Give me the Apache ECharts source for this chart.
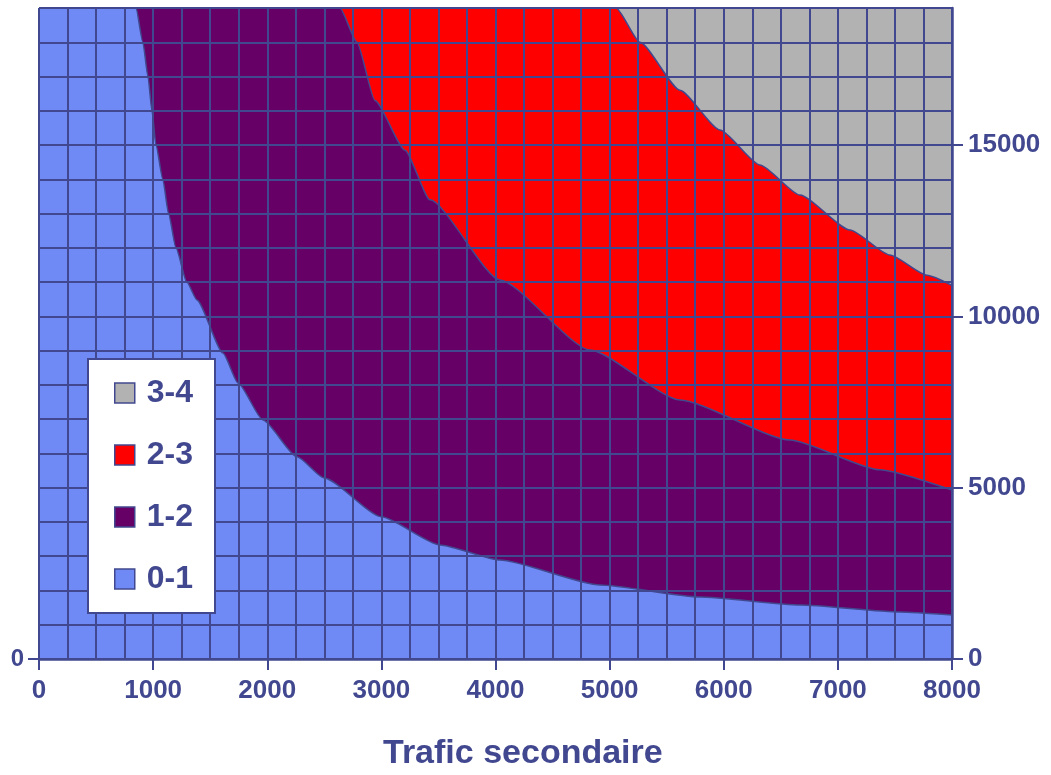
<!DOCTYPE html>
<html>
<head>
<meta charset="utf-8">
<script src="https://cdn.jsdelivr.net/npm/echarts@6/dist/echarts.min.js"></script>
<style>
  html, body { margin: 0; padding: 0; background: #ffffff; }
  #chart { width: 1051px; height: 775px; }
</style>
</head>
<body>
<div id="chart"></div>
<script>
// Band labels, top band first (legend order)
const bandNames = ['3-4', '2-3', '1-2', '0-1'];
const bandColors = ['#b2b2b2', '#ff0000', '#660066', '#6f89f5'];

// Axis ticks and grid steps
const yTicks = [0, 5000, 10000, 15000];
const xMax = 8000;
const yMax = 19000;
const xStep = 250;
const yStep = 1000;

// Contour boundaries [trafic secondaire, trafic principal]
// level 3 : between 2-3 and 3-4
const level3 = [
  [0, 19000], [5056, 19000], [5266, 18000], [5616, 16600], [5967, 15440],
  [6317, 14420], [6668, 13540], [7106, 12520], [7456, 11790], [7781, 11200],
  [8000, 10900]
];
// level 2 : between 1-2 and 2-3
const level2 = [
  [0, 19000], [2637, 19000], [2786, 18000], [2944, 16300], [3207, 14850],
  [3426, 13400], [4039, 11060], [4828, 9020], [5616, 7560], [6580, 6390],
  [7369, 5520], [8000, 4930]
];
// level 1 : between 0-1 and 1-2
const level1 = [
  [0, 19000], [850, 19000], [910, 18000], [955, 17000], [990, 16000],
  [1025, 15000], [1085, 14000], [1135, 13000], [1200, 12000], [1295, 11000],
  [1384, 10480], [1612, 8930], [1744, 8055], [1963, 6975], [2261, 5900],
  [2500, 5280], [3000, 4150], [3513, 3330], [4039, 2890], [4915, 2160],
  [5792, 1810], [6668, 1576], [7544, 1372], [8000, 1284]
];
// top band fills the whole field
const level4 = [[0, 19000], [8000, 19000]];

const navy = '#41488f';
const font = 'Liberation Sans, Arial, sans-serif';
const plain = v => String(v);

const curveStyle = { smooth: 0.2, smoothMonotone: 'x' };

// filled band below a boundary (drawn under the cell grid)
function band(name, color, data) {
  return Object.assign({
    name: name,
    type: 'line',
    xAxisIndex: 0,
    yAxisIndex: 0,
    data: data,
    z: 2,
    showSymbol: false,
    symbol: 'none',
    color: color,
    itemStyle: { color: color },
    lineStyle: { width: 0 },
    areaStyle: { color: color, opacity: 1, origin: 'start' },
    silent: true,
    animation: false
  }, curveStyle);
}

// thin boundary stroke drawn over the cell grid
function edge(id, data) {
  return Object.assign({
    id: id,
    type: 'line',
    xAxisIndex: 0,
    yAxisIndex: 0,
    data: data,
    z: 8,
    showSymbol: false,
    symbol: 'none',
    lineStyle: { color: navy, width: 1.5 },
    silent: true,
    animation: false
  }, curveStyle);
}

// hidden axis that only draws the cell grid
function gridAxis(extra) {
  return Object.assign({
    type: 'value',
    min: 0,
    z: 5,
    axisLine: { show: false },
    axisTick: { show: false },
    axisLabel: { show: false },
    splitLine: { show: true, lineStyle: { color: navy, width: 2 } }
  }, extra);
}

const chart = echarts.init(document.getElementById('chart'), null, { renderer: 'canvas' });

chart.setOption({
  animation: false,
  backgroundColor: '#ffffff',
  title: {
    text: 'Trafic secondaire',
    left: 383,
    top: 737,
    padding: 0,
    textStyle: { fontFamily: font, fontSize: 34, fontWeight: 'bold', color: navy }
  },
  grid: { left: 39, right: 99, top: 8, bottom: 116, containLabel: false },
  legend: {
    orient: 'vertical',
    left: 88,
    top: 359,
    z: 10,
    backgroundColor: '#ffffff',
    borderColor: navy,
    borderWidth: 2,
    borderRadius: 0,
    padding: [16, 22, 16, 26],
    itemGap: 26,
    itemWidth: 20,
    itemHeight: 20,
    icon: 'rect',
    selectedMode: false,
    itemStyle: { borderColor: navy, borderWidth: 1.5 },
    textStyle: {
      fontFamily: font, fontSize: 32, fontWeight: 'bold', color: navy,
      lineHeight: 36, padding: [0, 0, 0, 7]
    },
    data: bandNames.map((n, i) => ({ name: n, itemStyle: { color: bandColors[i] } }))
  },
  xAxis: [
    {
      type: 'value',
      position: 'bottom',
      min: 0,
      max: xMax,
      interval: 1000,
      z: 6,
      axisLine: { show: true, onZero: false, lineStyle: { color: navy, width: 2.5 } },
      axisTick: { show: true, length: 11, lineStyle: { color: navy, width: 2 } },
      axisLabel: {
        margin: 19,
        formatter: plain,
        fontFamily: font, fontSize: 26, fontWeight: 'bold', color: navy
      },
      splitLine: { show: false }
    },
    gridAxis({ position: 'top', max: xMax, interval: xStep })
  ],
  yAxis: [
    {
      type: 'value',
      position: 'right',
      min: 0,
      max: yMax,
      interval: yStep,
      z: 6,
      axisLine: { show: true, onZero: false, lineStyle: { color: navy, width: 2.5 } },
      axisTick: { show: true, length: 11, customValues: yTicks, lineStyle: { color: navy, width: 2 } },
      axisLabel: {
        customValues: yTicks,
        margin: 16,
        formatter: plain,
        fontFamily: font, fontSize: 26, fontWeight: 'bold', color: navy
      },
      splitLine: { show: false }
    },
    {
      type: 'value',
      position: 'left',
      min: 0,
      max: yMax,
      z: 6,
      axisLine: { show: false },
      axisTick: { show: true, length: 11, customValues: [0], lineStyle: { color: navy, width: 2 } },
      axisLabel: {
        customValues: [0],
        margin: 15,
        formatter: plain,
        fontFamily: font, fontSize: 24, fontWeight: 'bold', color: navy
      },
      splitLine: { show: false }
    },
    gridAxis({ position: 'left', offset: 0, max: yMax, interval: yStep })
  ],
  series: [
    band(bandNames[0], bandColors[0], level4),
    band(bandNames[1], bandColors[1], level3),
    band(bandNames[2], bandColors[2], level2),
    band(bandNames[3], bandColors[3], level1),
    edge('edge3', level3),
    edge('edge2', level2),
    edge('edge1', level1)
  ]
});
</script>
</body>
</html>
